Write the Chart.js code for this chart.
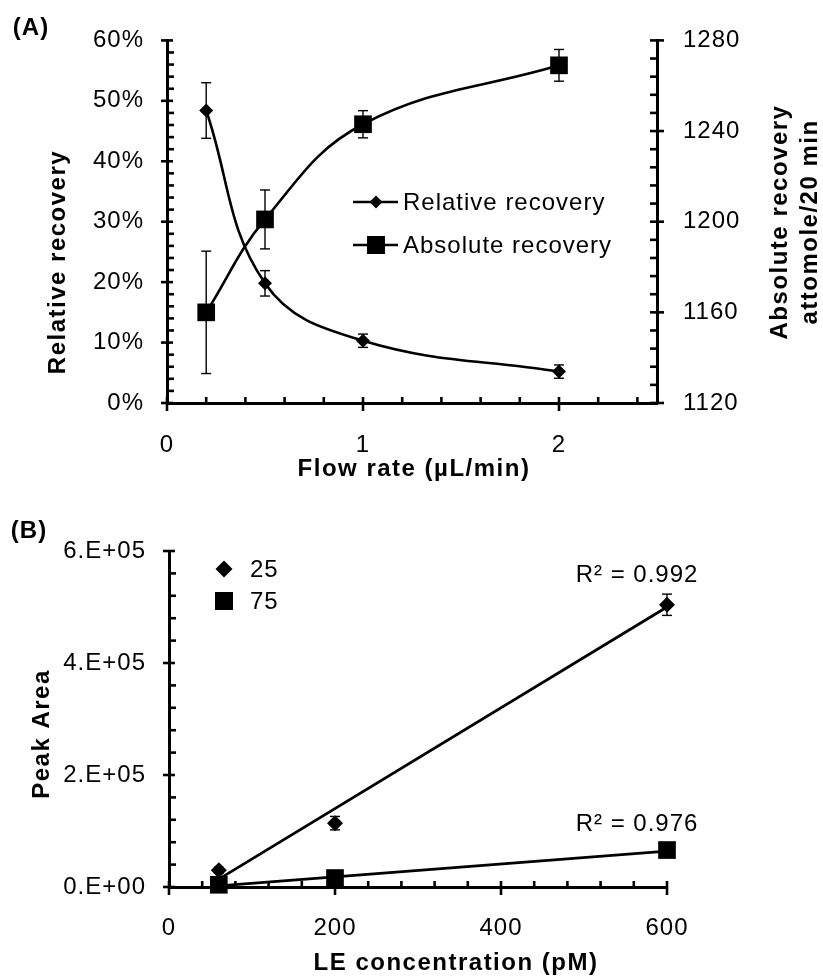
<!DOCTYPE html>
<html>
<head>
<meta charset="utf-8">
<script src="https://cdn.jsdelivr.net/npm/chart.js@4"></script>
<style>
  html, body { margin: 0; padding: 0; background: #fff; }
  #wrap { position: relative; width: 823px; height: 976px; }
  canvas { position: absolute; left: 0; }
</style>
</head>
<body>
<div id="wrap">
  <canvas id="chartA" width="823" height="488" style="top:0"></canvas>
  <canvas id="chartB" width="823" height="488" style="top:488px"></canvas>
</div>
<script>
const FONT = "'Liberation Sans', Arial, sans-serif";

// (A) recovery vs flow rate
const flowRate = [0.2, 0.5, 1, 2];
const relRecovery = [48.4, 19.8, 10.3, 5.2];   // %
const relErr = [4.6, 2.1, 1.1, 1.1];
const absRecovery = [1160, 1201, 1243, 1269];  // attomole/20 min
const absErr = [27, 13, 6, 7];
const flowTicks = [0, 1, 2];
const flowRange = [0, 2.5];
const pctTicks = [0, 10, 20, 30, 40, 50, 60];
const absTicks = [1120, 1160, 1200, 1240, 1280];

// (B) calibration
const conc = [60, 200, 600];
const area25 = [30000, 114000, 504000];
const err25 = [5000, 12000, 19000];
const area75 = [4000, 16000, 66000];
const trendX = [60, 600];
const trend25 = [14000, 500000];
const trend75 = [2000, 64000];
const concTicks = [0, 200, 400, 600];
const areaTicks = [0, 200000, 400000, 600000];

const pts = (xs, ys) => xs.map((x, i) => ({ x: x, y: ys[i] }));
const useTicks = arr => scale => { scale.ticks = arr.map(v => ({ value: v })); };

function seg(ctx, x1, y1, x2, y2) {
  ctx.beginPath(); ctx.moveTo(x1, y1); ctx.lineTo(x2, y2); ctx.stroke();
}
function txt(ctx, s, x, y, font, rot, align, sp) {
  ctx.save();
  ctx.translate(x, y);
  if (rot) ctx.rotate(rot);
  ctx.font = font;
  ctx.letterSpacing = (sp || 0) + 'px';
  ctx.fillStyle = '#000';
  ctx.textAlign = align || 'center';
  ctx.textBaseline = 'middle';
  ctx.fillText(s, 0, 0);
  ctx.restore();
}
function diamond(ctx, x, y, r) {
  ctx.beginPath(); ctx.moveTo(x, y - r); ctx.lineTo(x + r, y); ctx.lineTo(x, y + r); ctx.lineTo(x - r, y);
  ctx.closePath(); ctx.fill();
}
function steps(a, b, st) {
  const out = [];
  for (let v = a; v <= b + st / 1000; v += st) out.push(Math.round(v * 1000) / 1000);
  return out;
}

// major ticks cross the axis, minor ticks point into the plot
function axisMarks(chart, id, side, majors, minors) {
  const s = chart.scales[id], a = chart.chartArea, ctx = chart.ctx;
  ctx.save();
  ctx.strokeStyle = '#000';
  ctx.lineWidth = 2.6;
  minors.filter(v => !majors.includes(v)).forEach(v => {
    const p = s.getPixelForValue(v);
    if (side === 'left') seg(ctx, a.left, p, a.left + 7, p);
    if (side === 'right') seg(ctx, a.right - 7, p, a.right, p);
    if (side === 'bottom') seg(ctx, p, a.bottom - 6, p, a.bottom);
  });
  majors.forEach(v => {
    const p = s.getPixelForValue(v);
    if (side === 'left') seg(ctx, a.left - 6, p, a.left + 6, p);
    if (side === 'right') seg(ctx, a.right - 7, p, a.right + 7, p);
    if (side === 'bottom') seg(ctx, p, a.bottom - 6, p, a.bottom + 8);
  });
  ctx.restore();
}

const spacing = {
  id: 'spacing',
  beforeDraw(chart) { chart.ctx.letterSpacing = '1px'; }
};

const errorBars = {
  id: 'errorBars',
  beforeDatasetsDraw(chart) {
    const ctx = chart.ctx;
    ctx.save();
    ctx.strokeStyle = '#000';
    ctx.lineWidth = 1.4;
    chart.data.datasets.forEach(ds => {
      if (!ds.errors) return;
      const xs = chart.scales.x, ys = chart.scales[ds.yAxisID || 'y'];
      ds.data.forEach((p, j) => {
        const e = ds.errors[j];
        if (!e) return;
        const x = xs.getPixelForValue(p.x);
        const y1 = ys.getPixelForValue(p.y - e), y2 = ys.getPixelForValue(p.y + e);
        seg(ctx, x, y1, x, y2);
        seg(ctx, x - 5, y1, x + 5, y1);
        seg(ctx, x - 5, y2, x + 5, y2);
      });
    });
    ctx.restore();
  }
};

function axisBase(min, max, tickArr, pad, fit, fmt) {
  return {
    type: 'linear', min: min, max: max,
    afterBuildTicks: useTicks(tickArr),
    afterFit: fit,
    grid: { display: false, drawTicks: false },
    border: { display: true, color: '#000', width: 3 },
    ticks: { padding: pad, color: '#000', font: { family: FONT, size: 24 }, callback: fmt || (v => String(v)) }
  };
}

const TITLE = "bold 24px " + FONT;
const TICKF = "24px " + FONT;

// ---------- chart A ----------
const decorA = {
  id: 'decorA',
  afterDraw(chart) {
    const ctx = chart.ctx;
    axisMarks(chart, 'y', 'left', pctTicks, steps(0, 60, 2));
    axisMarks(chart, 'y2', 'right', absTicks, steps(1120, 1280, 8));
    axisMarks(chart, 'x', 'bottom', flowTicks, steps(0, 2.4, 0.2));

    txt(ctx, '(A)', 31, 28, TITLE, 0, 'center', 1);
    txt(ctx, 'Relative recovery', 58, 262, TITLE, -Math.PI / 2, 'center', 1.5);
    txt(ctx, 'Flow rate (µL/min)', 414, 469, TITLE, 0, 'center', 1.5);
    txt(ctx, 'Absolute recovery', 780, 222, TITLE, -Math.PI / 2, 'center', 1.5);
    txt(ctx, 'attomole/20 min', 810, 222, TITLE, -Math.PI / 2, 'center', 1.5);

    // legend
    ctx.save();
    ctx.strokeStyle = '#000'; ctx.fillStyle = '#000'; ctx.lineWidth = 2.6;
    seg(ctx, 353, 202, 398, 202);
    diamond(ctx, 376, 202, 6.5);
    seg(ctx, 353, 245, 398, 245);
    ctx.fillRect(367, 236, 18, 18);
    ctx.restore();
    txt(ctx, 'Relative recovery', 403, 203, TICKF, 0, 'left', 1);
    txt(ctx, 'Absolute recovery', 403, 246, TICKF, 0, 'left', 1);
  }
};

new Chart(document.getElementById('chartA'), {
  type: 'line',
  data: {
    datasets: [
      {
        label: 'Relative recovery',
        data: pts(flowRate, relRecovery),
        errors: relErr,
        yAxisID: 'y',
        borderColor: '#000', borderWidth: 2.6, tension: 0.4,
        pointStyle: 'rectRot', pointRadius: 7, pointBorderWidth: 0,
        pointBackgroundColor: '#000', clip: false
      },
      {
        label: 'Absolute recovery',
        data: pts(flowRate, absRecovery),
        errors: absErr,
        yAxisID: 'y2',
        borderColor: '#000', borderWidth: 2.6, tension: 0.4,
        pointStyle: 'rect', pointRadius: 12.5, pointBorderWidth: 0,
        pointBackgroundColor: '#000', clip: false
      }
    ]
  },
  options: {
    responsive: false, animation: false, events: [],
    layout: { padding: { top: 37, left: 0, right: 0, bottom: 0 } },
    plugins: { legend: { display: false }, tooltip: { enabled: false } },
    scales: {
      x: axisBase(flowRange[0], flowRange[1], flowTicks, 28, s => { s.height = 85; }),
      y: Object.assign(axisBase(0, 60, pctTicks, 23, s => { s.width = 167; }, v => v + '%'), { position: 'left' }),
      y2: Object.assign(axisBase(1120, 1280, absTicks, 26, s => { s.width = 166; }), { position: 'right' })
    }
  },
  plugins: [spacing, errorBars, decorA]
});

// ---------- chart B ----------
function sci(v) {
  if (v === 0) return '0.E+00';
  const e = Math.floor(Math.log10(v));
  return Math.round(v / Math.pow(10, e)) + '.E+' + String(e).padStart(2, '0');
}

const decorB = {
  id: 'decorB',
  afterDraw(chart) {
    const ctx = chart.ctx;
    axisMarks(chart, 'y', 'left', areaTicks, steps(0, 600000, 40000));
    axisMarks(chart, 'x', 'bottom', concTicks, steps(0, 600, 40));

    txt(ctx, '(B)', 29, 43, TITLE, 0, 'center', 1);
    txt(ctx, 'Peak Area', 42, 246, TITLE, -Math.PI / 2, 'center', 1.5);
    txt(ctx, 'LE concentration (pM)', 456, 475, TITLE, 0, 'center', 1.5);

    ctx.save();
    ctx.fillStyle = '#000';
    diamond(ctx, 224, 81, 8.5);
    ctx.fillRect(215, 104, 18, 18);
    ctx.restore();
    txt(ctx, '25', 250, 82, TICKF, 0, 'left', 1);
    txt(ctx, '75', 250, 114, TICKF, 0, 'left', 1);

    txt(ctx, 'R² = 0.992', 637, 87, TICKF, 0, 'center', 1);
    txt(ctx, 'R² = 0.976', 637, 336, TICKF, 0, 'center', 1);
  }
};

new Chart(document.getElementById('chartB'), {
  type: 'scatter',
  data: {
    datasets: [
      {
        label: '25',
        data: pts(conc, area25),
        errors: err25,
        pointStyle: 'rectRot', pointRadius: 8, pointBorderWidth: 0,
        pointBackgroundColor: '#000', showLine: false, clip: false, order: 0
      },
      {
        label: '75',
        data: pts(conc, area75),
        pointStyle: 'rect', pointRadius: 12.5, pointBorderWidth: 0,
        pointBackgroundColor: '#000', showLine: false, clip: false, order: 0
      },
      {
        label: 'trend 25',
        data: pts(trendX, trend25),
        showLine: true, pointRadius: 0, borderColor: '#000', borderWidth: 2.8, order: 1, clip: false
      },
      {
        label: 'trend 75',
        data: pts(trendX, trend75),
        showLine: true, pointRadius: 0, borderColor: '#000', borderWidth: 2.8, order: 1, clip: false
      }
    ]
  },
  options: {
    responsive: false, animation: false, events: [],
    layout: { padding: { top: 63, left: 0, right: 156, bottom: 0 } },
    plugins: { legend: { display: false }, tooltip: { enabled: false } },
    scales: {
      x: axisBase(0, 600, concTicks, 27, s => { s.height = 89; }),
      y: Object.assign(axisBase(0, 600000, areaTicks, 23, s => { s.width = 169; }, sci), { position: 'left' })
    }
  },
  plugins: [spacing, errorBars, decorB]
});
</script>
</body>
</html>
